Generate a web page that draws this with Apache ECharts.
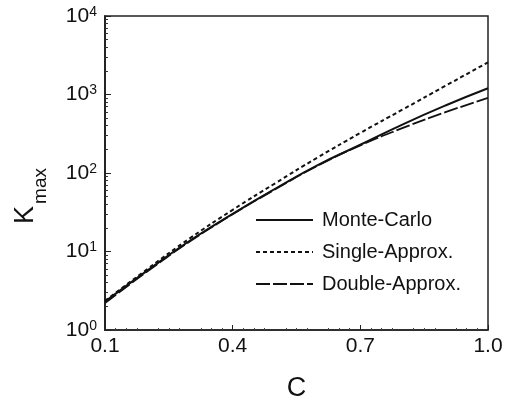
<!DOCTYPE html>
<html><head><meta charset="utf-8">
<script src="https://cdn.jsdelivr.net/npm/echarts@6/dist/echarts.min.js"></script>
<style>html,body{margin:0;padding:0;background:#fff}#c{width:507px;height:407px}</style>
</head><body><div id="c"></div>
<script>
const cValues = [0.1, 0.2, 0.3, 0.4, 0.5, 0.6, 0.7, 0.8, 0.9, 1.0];
const monteCarlo = [2.3, 5.75, 13.8, 30.2, 63, 126, 229, 417, 724, 1200];
const singleApprox = [2.35, 6.0, 14.8, 33.9, 74, 158, 324, 646, 1290, 2570];
const doubleApprox = [2.2, 5.6, 13.5, 29.8, 62, 124, 225, 375, 595, 905];
const xTickLabels = [0.1, 0.4, 0.7, 1.0];
const yTickExps = [0, 1, 2, 3, 4];
const seriesNames = ['Monte-Carlo', 'Single-Approx.', 'Double-Approx.'];

const font = 'Liberation Sans, Arial, sans-serif';
const pair = arr => cValues.map((c, i) => [c, arr[i]]);
// minor tick positions for the log axis (2..9 x 10^n), in decades
const yMinorPos = [];
yTickExps.slice(0, -1).forEach(e => { for (let k = 2; k <= 9; k++) yMinorPos.push(e + Math.log10(k)); });

const chart = echarts.init(document.getElementById('c'), null, {renderer: 'canvas'});
chart.setOption({
  animation: false,
  backgroundColor: '#fff',
  grid: {left: 105, right: 19, top: 16, bottom: 76, show: true, borderColor: '#222', borderWidth: 1.5},
  legend: {
    orient: 'vertical', left: 250, top: 205, itemWidth: 57, itemHeight: 14, itemGap: 12,
    itemStyle: {color: 'transparent', borderColor: 'transparent', borderWidth: 0, opacity: 0},
    textStyle: {fontFamily: font, fontSize: 20, color: '#111', padding: [0, 0, 0, 4]},
    data: seriesNames
  },
  xAxis: {
    type: 'value', min: 0.1, max: 1.0, interval: 0.1,
    axisLine: {show: true, lineStyle: {color: '#222', width: 1.5}},
    axisTick: {show: true, inside: true, length: 5, customValues: xTickLabels, lineStyle: {color: '#222'}},
    minorTick: {show: true, splitNumber: 4, length: 2, lineStyle: {color: '#444'}},
    splitLine: {show: false},
    axisLabel: {customValues: xTickLabels, formatter: v => v.toFixed(1), fontFamily: font, fontSize: 21, color: '#111', margin: 6},
    name: 'C', nameLocation: 'middle', nameGap: 45,
    nameTextStyle: {fontFamily: font, fontSize: 27, color: '#111'}
  },
  yAxis: [{
    type: 'log', logBase: 10, min: 1, max: 10000,
    axisLine: {show: true, lineStyle: {color: '#222', width: 1.5}},
    axisTick: {show: true, inside: true, length: 6, lineStyle: {color: '#222'}},
    minorTick: {show: false},
    splitLine: {show: false},
    axisLabel: {
      margin: 8,
      formatter: v => '{b|10}{s|' + Math.round(Math.log10(v)) + '}',
      rich: {
        b: {fontFamily: font, fontSize: 21, color: '#111'},
        s: {fontFamily: font, fontSize: 14, color: '#111', verticalAlign: 'top', padding: [0, 0, 8, 0]}
      }
    }
  }, {
    type: 'value', min: 0, max: 4, interval: 1, position: 'left', offset: 0,
    axisLine: {show: true, onZero: false, lineStyle: {color: '#222', width: 1.5}},
    axisTick: {show: true, inside: true, length: 3, customValues: yMinorPos, lineStyle: {color: '#333', width: 1}},
    axisLabel: {show: false, customValues: yMinorPos},
    splitLine: {show: false}
  }],
  graphic: [
    {type: 'text', x: 26, y: 215, rotation: Math.PI / 2,
     style: {text: 'K', font: '27px ' + font, fill: '#111', textAlign: 'center', textVerticalAlign: 'middle'}},
    {type: 'text', x: 41, y: 186, rotation: Math.PI / 2,
     style: {text: 'max', font: '19px ' + font, fill: '#111', textAlign: 'center', textVerticalAlign: 'middle'}}
  ],
  series: [
    {name: seriesNames[0], type: 'line', data: pair(monteCarlo), smooth: true, symbol: 'none',
     lineStyle: {color: '#111', width: 2, type: 'solid'}, itemStyle: {color: '#111'}, z: 3},
    {name: seriesNames[1], type: 'line', data: pair(singleApprox), smooth: true, symbol: 'none',
     lineStyle: {color: '#111', width: 2, type: [4, 3]}, itemStyle: {color: '#111'}},
    {name: seriesNames[2], type: 'line', data: pair(doubleApprox), smooth: true, symbol: 'none',
     lineStyle: {color: '#111', width: 1.8, type: [14, 3]}, itemStyle: {color: '#111'}}
  ]
});
</script></body></html>
